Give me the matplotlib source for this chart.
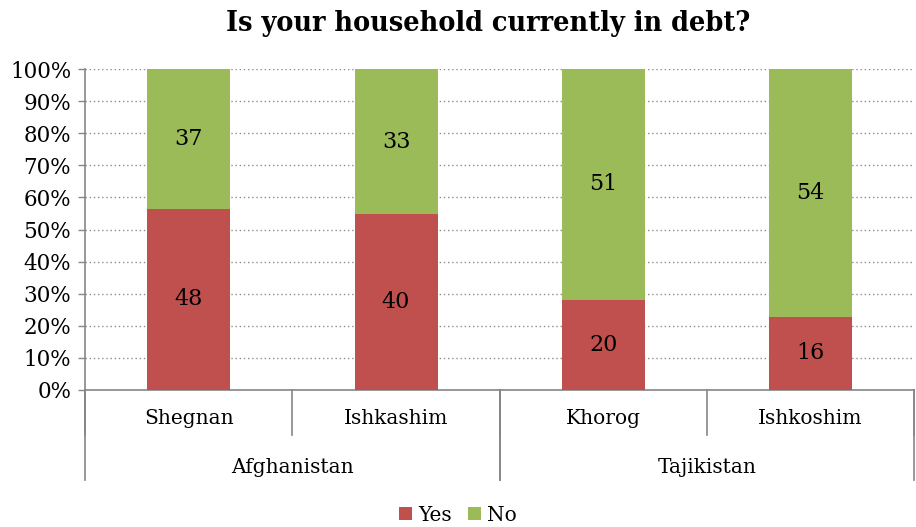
import numpy as np
import matplotlib.pyplot as plt
from matplotlib.ticker import PercentFormatter

sites = ["Shegnan", "Ishkashim", "Khorog", "Ishkoshim"]
countries = ["Afghanistan", "Tajikistan"]
sites_per_country = [2, 2]
yes = np.array([48, 40, 20, 16])
no = np.array([37, 33, 51, 54])

red = "#C0504D"
green = "#9BBB59"
axis_col = "#868686"

plt.rcParams['font.family'] = ['DejaVu Serif']

fig = plt.figure(figsize=(9.16, 5.27), dpi=100)
ax = fig.add_axes([0.093, 0.26, 0.905, 0.609])

total = yes + no
yes_pct = yes / total * 100
no_pct = no / total * 100
x = np.arange(len(sites))

b1 = ax.bar(x, yes_pct, 0.4, color=red, label="Yes", zorder=3)
b2 = ax.bar(x, no_pct, 0.4, bottom=yes_pct, color=green, label="No", zorder=3)

for i in range(len(sites)):
    ax.text(x[i], yes_pct[i] / 2, str(yes[i]), ha="center", va="center", fontsize=16, zorder=4)
    ax.text(x[i], yes_pct[i] + no_pct[i] / 2, str(no[i]), ha="center", va="center", fontsize=16, zorder=4)

ax.set_xlim(-0.5, len(sites) - 0.5)
ax.set_ylim(0, 100)
ax.set_yticks(np.arange(0, 101, 10))
ax.yaxis.set_major_formatter(PercentFormatter(decimals=0))
ax.tick_params(axis="y", labelsize=15.5, length=5, color=axis_col, width=1, pad=5)
ax.set_xticks([])
ax.grid(axis="y", linestyle=(0, (1, 2)), color="#8c8c8c", linewidth=1, zorder=0)

for s in ["top", "right"]:
    ax.spines[s].set_visible(False)
for s in ["left", "bottom"]:
    ax.spines[s].set_color(axis_col)
    ax.spines[s].set_linewidth(1.2)

# category tick separators below the axis
trans = ax.get_xaxis_transform()
for i in range(len(sites) + 1):
    xs = i - 0.5
    ax.plot([xs, xs], [0, -0.14], color=axis_col, lw=1.2, transform=trans, clip_on=False)
for i, s in enumerate(sites):
    ax.text(i, -0.09, s, ha="center", va="center", fontsize=14.5, transform=trans)

start = 0
for c, n in zip(countries, sites_per_country):
    for xs in [start - 0.5, start + n - 0.5]:
        ax.plot([xs, xs], [0, -0.28], color=axis_col, lw=1.2, transform=trans, clip_on=False)
    ax.text(start + (n - 1) / 2, -0.24, c, ha="center", va="center", fontsize=14.5, transform=trans)
    start += n

fig.text(0.533, 0.955, "Is your household currently in debt?", ha="center", va="center",
         fontsize=20.5, fontweight="bold", fontstretch="condensed")

fig.legend(handles=[b1, b2], labels=["Yes", "No"], loc="lower center", bbox_to_anchor=(0.5, -0.03),
           ncol=2, frameon=False, fontsize=14.5, handlelength=0.65, handleheight=0.65,
           handletextpad=0.3, columnspacing=0.8)

fig.savefig("out.png", dpi=100)
